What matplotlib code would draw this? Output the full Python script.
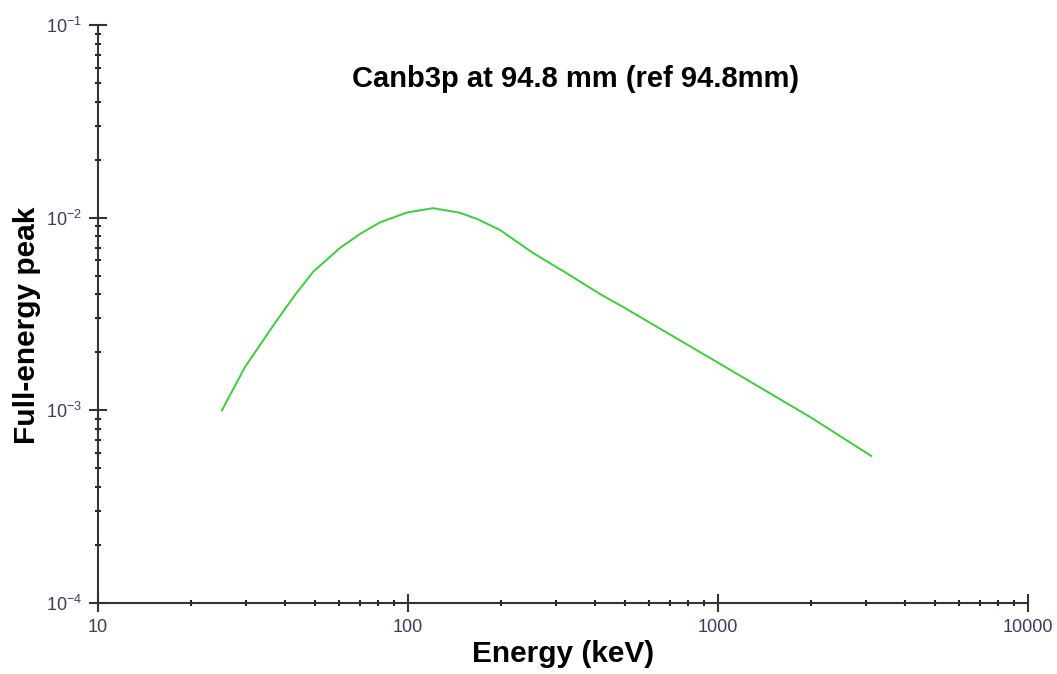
import numpy as np
import matplotlib.pyplot as plt
from matplotlib.ticker import LogLocator, FixedLocator, NullFormatter

plt.rcParams['font.family'] = ['Liberation Sans', 'DejaVu Sans']

# full-energy peak efficiency
energy = [25.1, 29.8, 37.8, 43.2, 49.4, 60.3, 70.0, 81.2, 99.3, 120.4,
          147.1, 167.0, 198.1, 253, 326, 416, 494, 993, 1981, 3120]
efficiency = [1.0e-3, 1.68e-3, 2.94e-3, 3.97e-3, 5.23e-3, 6.96e-3, 8.23e-3,
              9.45e-3, 1.064e-2, 1.12e-2, 1.06e-2, 9.85e-3, 8.63e-3, 6.56e-3,
              5.13e-3, 4.02e-3, 3.44e-3, 1.78e-3, 9.24e-4, 5.8e-4]

fig = plt.figure(figsize=(10.57, 6.74), dpi=100)
ax = fig.add_axes([0.0927, 0.1053, 0.8799, 0.8576])

ax.plot(energy, efficiency, color="#3ccc3c", lw=1.4)
ax.set_xscale('log')
ax.set_yscale('log')
ax.set_xlim(10, 10000)
ax.set_ylim(1e-4, 1e-1)

ax.spines['top'].set_visible(False)
ax.spines['right'].set_visible(False)
for s in ['left', 'bottom']:
    ax.spines[s].set_color('#333333')
    ax.spines[s].set_linewidth(1.5)

ax.xaxis.set_major_locator(FixedLocator([10, 100, 1000, 10000]))
ax.set_xticklabels(['10', '100', '1000', '10000'])
ax.xaxis.set_minor_locator(LogLocator(base=10, subs=np.arange(2, 10)))
ax.xaxis.set_minor_formatter(NullFormatter())
ax.yaxis.set_minor_locator(LogLocator(base=10, subs=np.arange(2, 10)))
ax.yaxis.set_minor_formatter(NullFormatter())

ax.tick_params(which='major', direction='inout', length=13, width=1.5,
               color='#333333', labelsize=13, labelcolor='#3c3c5a', pad=5)
ax.tick_params(which='minor', direction='inout', length=5, width=1.5,
               color='#222222')

ax.set_xlabel("Energy (keV)", fontsize=21.5, fontweight='bold', va='top')
ax.xaxis.set_label_coords(0.5, -0.064)
ax.set_ylabel("Full-energy peak", fontsize=21.5, fontweight='bold', va='center')
ax.yaxis.set_label_coords(-0.076, 0.48)
ax.text(0.513, 0.907, "Canb3p at 94.8 mm (ref 94.8mm)", transform=ax.transAxes,
        ha='center', va='center', fontsize=21, fontweight='bold')

plt.savefig("out.png", dpi=100)
